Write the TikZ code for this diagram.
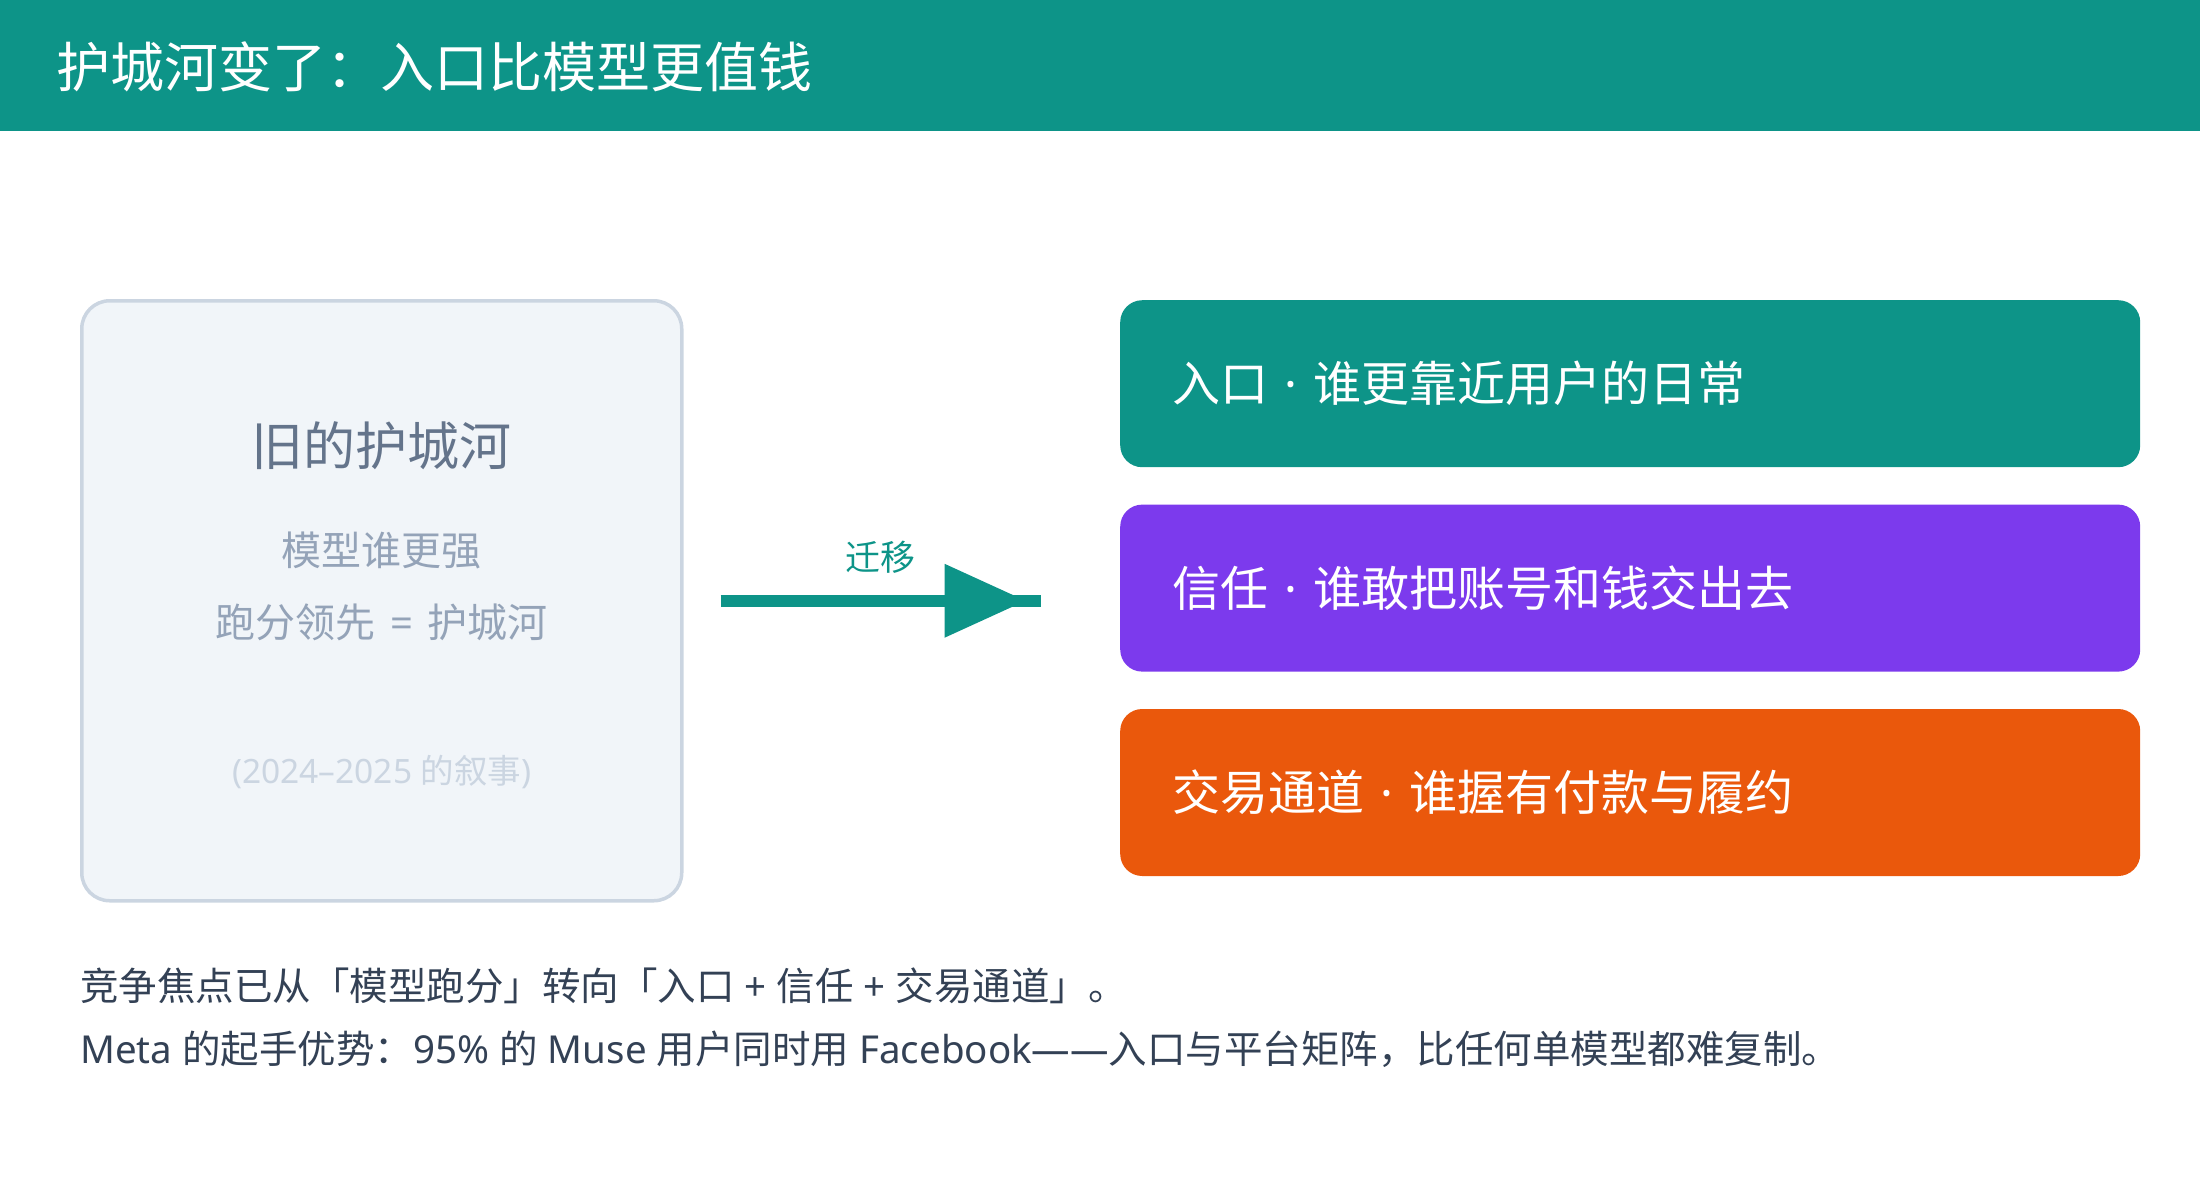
\documentclass[tikz,border=0pt]{standalone}
\usepackage{fontspec}
\setmainfont{Noto Sans CJK SC}
\newfontfamily\lat{Noto Sans}
\usetikzlibrary{arrows.meta,positioning,calc}

\definecolor{moat}{HTML}{0D9488}
\definecolor{trustc}{HTML}{7C3AED}
\definecolor{tradec}{HTML}{EA580C}
\definecolor{oldfill}{HTML}{F1F5F9}
\definecolor{oldline}{HTML}{CBD5E1}
\definecolor{oldhead}{HTML}{64748B}
\definecolor{oldtext}{HTML}{94A3B8}
\definecolor{bodytext}{HTML}{334155}

\newcommand{\fsz}[1]{\fontsize{#1pt}{#1pt}\selectfont}
\newcommand{\sepdot}{{\lat\ ·\ }}

\begin{document}
\begin{tikzpicture}[x=1pt,y=-1pt,
  card/.style={rounded corners=22pt, minimum width=1020pt, minimum height=167pt,
    text width=916pt, inner xsep=52pt, align=left, text=white, font=\fsz{48}, anchor=north west},
  oldtxt/.style={inner sep=0pt},
  sumtxt/.style={anchor=west, inner sep=0pt, font=\fsz{38.5}, text=bodytext}]
  \useasboundingbox (0,0) rectangle (2200,1200);

  % header
  \fill[moat] (0,0) rectangle (2200,131);
  \node[anchor=base west, inner sep=0pt, text=white, font=\fsz{54}] (title) at (56,87) {护城河变了：入口比模型更值钱};

  % old moat
  \node[draw=oldline, line width=3.5pt, fill=oldfill, rounded corners=28pt,
    minimum width=600pt, minimum height=600pt, anchor=north west] (old) at (80,299) {};
  \node[oldtxt, font=\fsz{52}, text=oldhead] (oldtitle) at ($(old.north)+(0,147)$) {旧的护城河};
  \node[oldtxt, font=\fsz{40}, text=oldtext] (oldq) at ($(old.north)+(0,251)$) {模型谁更强};
  \node[oldtxt, font=\fsz{40}, text=oldtext] (oldeq) at ($(old.north)+(0,323)$) {跑分领先{\lat\kern4pt\ =\ \kern4pt}护城河};
  \node[oldtxt, font=\fsz{33.5}, text=oldline] (olddate) at ($(old.north)+(0,473)$) {{\lat(2024–2025\ }的叙事{\lat)}};

  % migration arrow
  \coordinate (migA) at ($(old.east)+(37,0)$);
  \coordinate (migB) at ($(old.east)+(357,0)$);
  \draw[moat, line width=12pt] (migA) -- (migB);
  \fill[moat] ($(migB)+(-96,-37)$) -- ($(migB)+(-15,0)$) -- ($(migB)+(-96,37)$) -- cycle;
  \node[oldtxt, font=\fsz{35}, text=moat] (miglabel) at ($(migA)!0.5!(migB)+(0,-43)$) {迁移};

  % new moats
  \node[card, fill=moat] (entry) at (1120,300) {入口\sepdot 谁更靠近用户的日常};
  \node[card, fill=trustc, below=37pt of entry] (trust) {信任\sepdot 谁敢把账号和钱交出去};
  \node[card, fill=tradec, below=37pt of trust] (trade) {交易通道\sepdot 谁握有付款与履约};

  % summary
  \node[sumtxt] (sum1) at (80,986) {竞争焦点已从「模型跑分」转向「入口{\lat\ +\ }信任{\lat\ +\ }交易通道」。};
  \node[sumtxt] (sum2) at ($(sum1.west)+(0,63)$) {{\lat Meta\ }的起手优势：{\lat 95\%\ }的{\lat\ Muse\ }用户同时用{\lat\ Facebook——}入口与平台矩阵，比任何单模型都难复制。};
\end{tikzpicture}
\end{document}
